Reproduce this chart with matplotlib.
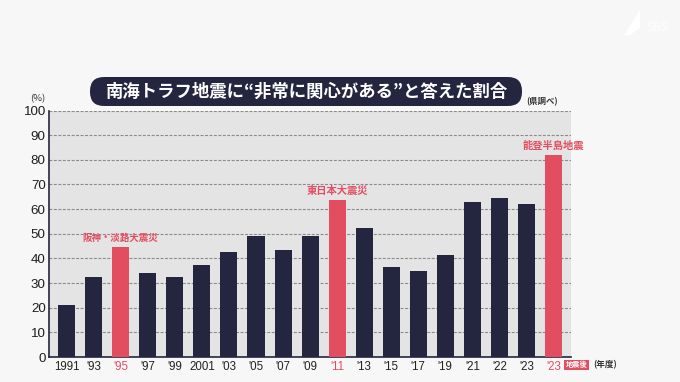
import matplotlib
matplotlib.use('Agg')
import matplotlib.pyplot as plt
from matplotlib.patches import FancyBboxPatch, Polygon, Rectangle
from matplotlib.transforms import IdentityTransform

plt.rcParams['font.family'] = ['Noto Sans CJK JP', 'DejaVu Sans']

years = ['1991', "'93", "'95", "'97", "'99", '2001', "'03", "'05", "'07", "'09", "'11",
         "'13", "'15", "'17", "'19", "'21", "'22", "'23", "'23"]
values = [21, 32.5, 44.5, 34, 32.5, 37.5, 42.5, 49, 43.5, 49, 63.5,
          52.5, 36.5, 35, 41.5, 63, 64.5, 62, 82]
quake_idx = [2, 10, 18]
quake_names = ['阪神・淡路大震災', '東日本大震災', '能登半島地震']
quake_sizes = [6.8, 7.4, 7.4]
yticks = list(range(0, 101, 10))

NAVY = '#24253f'
RED = '#e24e60'
W, H = 680, 382

fig = plt.figure(figsize=(W/100, H/100), dpi=100, facecolor='#f7f7f7')
ax = fig.add_axes([48.5/W, 1-357/H, 522/W, 246.5/H], facecolor='#e4e4e4')

xs = list(range(len(values)))
colors = [RED if i in quake_idx else NAVY for i in xs]
ax.yaxis.grid(True, color='#8a8a8a', linestyle=(0, (2.6, 1.4)), linewidth=0.8)
ax.set_axisbelow(True)
ax.bar(xs, values, width=0.63, color=colors, zorder=3)

ax.set_xlim(-0.673, 18.63)
ax.set_ylim(0, 100)
ax.set_yticks(yticks)
ax.set_xticks(xs)
ax.set_xticklabels(years, family='Liberation Sans')
ax.set_yticklabels(yticks, family='Liberation Sans')
ax.tick_params(axis='both', length=0)
ax.tick_params(axis='y', labelsize=9.6, labelcolor='#1e1e1e', pad=2)
ax.tick_params(axis='x', labelsize=8.3, labelcolor='#222222', pad=3)
for i in quake_idx:
    ax.get_xticklabels()[i].set_color(RED)

for s in ['top', 'right']:
    ax.spines[s].set_visible(False)
ax.spines['left'].set_color(NAVY)
ax.spines['left'].set_linewidth(1.2)
ax.spines['bottom'].set_color(NAVY)
ax.spines['bottom'].set_linewidth(1.2)

for i, name, size in zip(quake_idx, quake_names, quake_sizes):
    ax.annotate(name, (i, values[i]), xytext=(0, 6.5), textcoords='offset points',
                ha='center', va='center', color=RED, fontsize=size, fontweight='bold',
                zorder=4)


def fx(x):
    return x / W


def fy(y):
    return 1 - y / H


# title pill
fig.patches.append(FancyBboxPatch((90, H-106), 432, 29, boxstyle='round,pad=0,rounding_size=14',
                                  transform=IdentityTransform(), facecolor=NAVY, edgecolor='none'))
fig.text(fx(306), fy(91.5), '南海トラフ地震に“非常に関心がある”と答えた割合', color='white',
         fontsize=12.5, fontweight='bold', ha='center', va='center')

fig.text(fx(38), fy(99), '(%)', color='#333333', fontsize=6.8, ha='center', va='center')
fig.text(fx(542), fy(102), '(県調べ)', color='#333333', fontsize=6, fontweight='bold',
         ha='center', va='center')

# 地震後 tag and fiscal-year note
fig.patches.append(Rectangle((fx(564), fy(369.5)), 25/W, 9.5/H, transform=fig.transFigure,
                             facecolor=RED, edgecolor='none'))
fig.text(fx(576.5), fy(364.6), '地震後', color='white', fontsize=5.2, fontweight='bold',
         ha='center', va='center')
fig.text(fx(605), fy(364.6), '(年度)', color='#333333', fontsize=6.2, fontweight='bold',
         ha='center', va='center')

# watermark
fig.patches.append(Polygon([(fx(624), fy(35)), (fx(640), fy(10)), (fx(640), fy(28)),
                            (fx(630), fy(35))], closed=True, transform=fig.transFigure,
                           facecolor='white', edgecolor='none'))
fig.text(fx(657), fy(27.5), 'SBS', color='white', fontsize=8.5, ha='center', va='center')

fig.savefig('out.png', dpi=100, facecolor=fig.get_facecolor())
